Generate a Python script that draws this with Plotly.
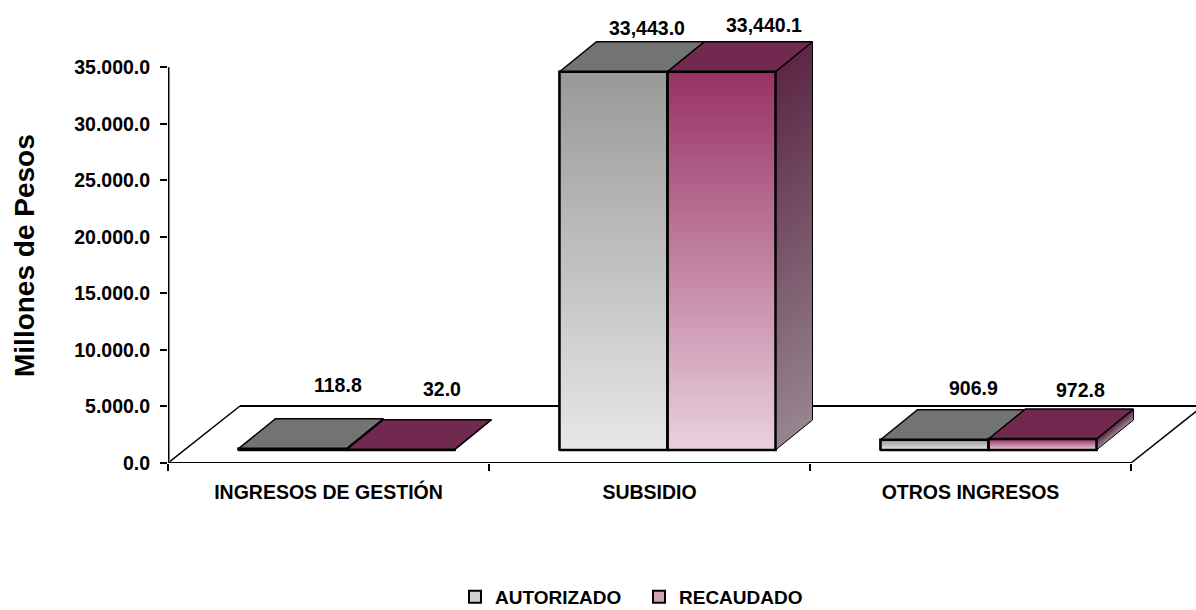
import numpy as np
import plotly.graph_objects as go

categories = ["INGRESOS DE GESTIÓN", "SUBSIDIO", "OTROS INGRESOS"]
autorizado = [118.8, 33443.0, 906.9]
recaudado = [32.0, 33440.1, 972.8]
labels_aut = ["118.8", "33,443.0", "906.9"]
labels_rec = ["32.0", "33,440.1", "972.8"]
y_ticks = [0, 5000, 10000, 15000, 20000, 25000, 30000, 35000]
y_tick_text = ["0.0", "5.000.0", "10.000.0", "15.000.0", "20.000.0", "25.000.0", "30.000.0", "35.000.0"]

# pixel geometry converted to axis units
W, H = 1196, 610
L, B = 168, 147
PX_X = 321.0
PX_Y = 0.01131
y0_px = H - B
def ux(px): return px / PX_X
def uy(px): return px / PX_Y

BAR_W = ux(108)
SHIFT_X = ux(18)
BASE = uy(13)
DX, DY = ux(37), uy(30)
FX, FY = ux(72), uy(57)
XMAX = (W - L) / PX_X
YMAX = y0_px / PX_Y
centers = np.array([0.5, 1.5, 2.5]) + SHIFT_X
x_aut = centers - BAR_W / 2
x_rec = centers + BAR_W / 2

def mix(c1, c2, t):
    return "rgb(%d,%d,%d)" % tuple(round(a + (b - a) * t) for a, b in zip(c1, c2))

G_TOP, G_BOT = (153, 153, 153), (231, 231, 231)
P_TOP, P_BOT = (153, 51, 102), (233, 208, 221)
S_TOP, S_BOT = (92, 40, 70), (150, 132, 142)
N = 80
fig = go.Figure()

def add_front(name, xs, vals, c_top, c_bot):
    fig.add_trace(go.Bar(name=name, x=list(xs), y=list(vals), base=BASE, width=BAR_W,
                         marker=dict(color=mix(c_top, c_bot, 0.7), line=dict(color="black", width=2))))
    gx, gb, gh, gc = [], [], [], []
    for x, v in zip(xs, vals):
        for i in range(N):
            # each band reaches the bar's top and is painted over by the next, so no seams show
            gx.append(x); gb.append(BASE + v * i / N); gh.append(v * (N - i) / N)
            gc.append(mix(c_bot, c_top, i / (N - 1)))
    fig.add_trace(go.Bar(x=gx, y=gh, base=gb, width=BAR_W, showlegend=False, hoverinfo="skip",
                         marker=dict(color=gc, line=dict(width=0))))

add_front("AUTORIZADO", x_aut, autorizado, G_TOP, G_BOT)
add_front("RECAUDADO", x_rec, recaudado, P_TOP, P_BOT)

def line(xs, ys, color="black", width=2):
    fig.add_trace(go.Scatter(x=xs, y=ys, mode="lines", line=dict(color=color, width=width),
                             cliponaxis=False, showlegend=False, hoverinfo="skip"))

def poly(xs, ys, color, lc="black", lw=1.5):
    fig.add_trace(go.Scatter(x=xs, y=ys, mode="lines", fill="toself", fillcolor=color,
                             line=dict(color=lc, width=lw), cliponaxis=False,
                             showlegend=False, hoverinfo="skip"))

# floor and axes (the back edge of the floor is a below-layer shape so bars hide it)
line([0, FX], [0, FY], width=1.5)
line([3, 3 + FX], [0, FY], width=1.5)
line([ux(1.5), ux(1.5)], [uy(-1), 35000], color="#808080", width=1)
line([0, 0], [0, 35000], width=2)
line([0, 3], [uy(-1.5), uy(-1.5)], color="#808080", width=1.5)
line([0, 3], [0, 0], width=2)

for xa, xr, va, vr in zip(x_aut, x_rec, autorizado, recaudado):
    right = xr + BAR_W / 2
    left = xa - BAR_W / 2
    mid = xr - BAR_W / 2
    ta, tr = BASE + va, BASE + vr
    # side face of the right-hand bar
    n = N if vr > 5000 else 10
    for i in range(n):
        b0 = BASE + vr * i / n
        c = mix(S_BOT, S_TOP, i / (n - 1))
        poly([right, right + DX, right + DX, right, right],
             [b0, b0 + DY, tr + DY, tr, b0], c, lc=c, lw=0)
    line([right, right + DX, right + DX], [BASE, BASE + DY, BASE + DY + vr], width=1)
    # top faces
    poly([left, left + DX, mid + DX, mid, left], [ta, ta + DY, ta + DY, ta, ta], "#737373")
    poly([mid, mid + DX, right + DX, right, mid], [tr, tr + DY, tr + DY, tr, tr], "#72294f")
    # front outlines
    line([left, left, mid, mid, left], [BASE, ta, ta, BASE, BASE], width=2.5)
    line([mid, mid, right, right, mid], [BASE, tr, tr, BASE, BASE], width=2.5)

# data labels
label_dx_aut = [45, 33, 39]
label_dy_aut = [64, 44, 52]
label_dx_rec = [41, 42, 38]
label_dy_rec = [61, 47, 49]
for xs, vals, texts, ddx, ddy in [(x_aut, autorizado, labels_aut, label_dx_aut, label_dy_aut),
                                  (x_rec, recaudado, labels_rec, label_dx_rec, label_dy_rec)]:
    for x, v, t, dx, dy in zip(xs, vals, texts, ddx, ddy):
        fig.add_annotation(x=x, y=BASE + v, text=t, showarrow=False, xshift=dx, yshift=dy,
                           font=dict(family="Liberation Sans", size=19.5, color="black", weight="bold"))

fig.add_annotation(xref="paper", yref="paper", x=(25 - L) / (W - L), y=(y0_px - 256) / y0_px,
                   xanchor="center", yanchor="middle",
                   text="Millones de Pesos", textangle=-90, showarrow=False,
                   font=dict(family="Liberation Sans", size=28, color="black", weight="bold"))

fig.add_shape(type="line", xref="x", yref="y", x0=FX, x1=XMAX, y0=FY, y1=FY, layer="below",
              line=dict(color="black", width=2))

fig.update_layout(
    width=W, height=H, barmode="overlay", plot_bgcolor="white", paper_bgcolor="white",
    margin=dict(l=L, r=0, t=0, b=B, autoexpand=False),
    font=dict(family="Liberation Sans", color="black"),
    legend=dict(orientation="h", x=(455 - L) / (W - L), xanchor="left", y=(y0_px - 578) / y0_px, yanchor="top",
                font=dict(size=19, weight="bold"), itemwidth=30, entrywidth=139, entrywidthmode="pixels",
                traceorder="normal", itemclick=False),
    xaxis=dict(range=[0, XMAX], showgrid=False, zeroline=False, showline=False,
               tickvals=[0.5, 1.5, 2.5], ticktext=categories, ticks="", ticklabelstandoff=15,
               tickfont=dict(size=19.5, weight="bold"),
               minor=dict(tickvals=[0, 1, 2, 3], ticks="outside", ticklen=7, tickwidth=2, tickcolor="black")),
    yaxis=dict(range=[0, YMAX], showgrid=False, zeroline=False, showline=False,
               tickvals=y_ticks, ticktext=y_tick_text, ticks="outside", ticklen=7, tickwidth=2,
               tickcolor="black", ticklabelstandoff=6, tickfont=dict(size=19.5, weight="bold")),
)
fig.write_html("out.html", config={"displayModeBar": False},
               post_script="document.body.style.margin='0';document.body.style.overflow='hidden';")
